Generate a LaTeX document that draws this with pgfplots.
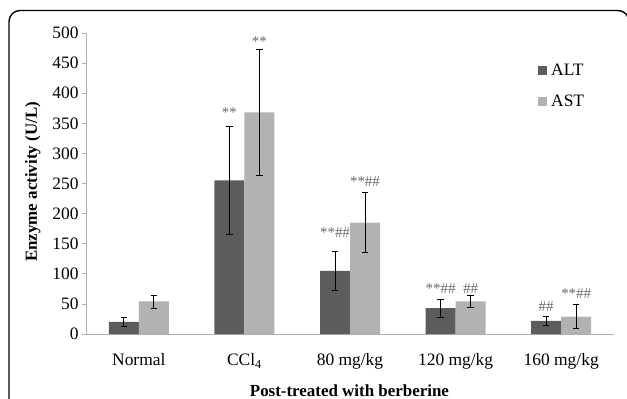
\documentclass[border=0pt]{standalone}
\usepackage{pgfplots}
\usepackage{pgfplotstable}
\pgfplotsset{compat=1.18}
\usepackage{fontspec}
\setmainfont{Liberation Serif}
\definecolor{altc}{HTML}{5C5C5C}
\definecolor{astc}{HTML}{B2B2B2}
\definecolor{axc}{HTML}{B0B0B0}
\definecolor{annc}{HTML}{6A6A6A}
\pgfplotstableread{
x ALT ALTerr AST ASTerr
0 20 7 54 11
1 255 90 368 105
2 105 32 185 50
3 43 15 54 10
4 22 7 29 20
}\datatable
\begin{document}
\begin{tikzpicture}
\useasboundingbox (0,0) rectangle (627bp,399bp);
\draw[line width=1.4bp, rounded corners=11bp] (9bp,-30bp) rectangle (629bp,388.5bp);
\begin{axis}[
  at={(86bp,65bp)}, anchor=south west,
  scale only axis, width=528bp, height=301bp,
  xmin=-0.5, xmax=4.5, ymin=0, ymax=500,
  axis x line*=bottom, axis y line*=left,
  axis line style={axc, line width=0.8bp, -},
  ybar=0pt, bar width=30bp,
  ytick={0,50,...,500},
  xtick={0,1,2,3,4},
  xticklabels={Normal, CCl\textsubscript{4}, 80 mg/kg, 120 mg/kg, 160 mg/kg},
  x tick style={draw=none},
  y tick style={axc, line width=0.8bp},
  tick align=outside, major tick length=4bp,
  extra x ticks={-0.5,0.5,1.5,2.5,3.5,4.5},
  extra x tick labels={},
  extra x tick style={tick style={axc, line width=0.8bp, draw=axc}, major tick length=5bp},
  ticklabel style={font=\fontsize{17.5}{20}\selectfont},
  xticklabel style={yshift=-12bp},
  /pgf/number format/assume math mode=true,
  ylabel={\textbf{Enzyme activity (U/L)}},
  ylabel style={font=\fontsize{17}{20}\selectfont, at={(axis description cs:-0.0795,0.505)}, anchor=south},
  xlabel={\textbf{Post-treated with berberine}},
  xlabel style={font=\fontsize{17}{20}\selectfont, at={(axis description cs:0.499,-0.189)}, anchor=center},
  legend style={draw=none, fill=none, at={(0.856,0.905)}, anchor=north west,
    font=\fontsize{17.5}{20}\selectfont, row sep=14bp, inner sep=0pt,
    /tikz/every odd column/.append style={column sep=2bp}},
  legend cell align=left,
  legend image code/.code={\fill[#1] (0bp,-4.5bp) rectangle (9bp,4.5bp);},
  clip=false,
]
\addplot[fill=altc, draw=none, error bars/.cd, y dir=both, y explicit,
  error bar style={black, line width=0.7bp},
  error mark options={black, rotate=90, mark size=3.2bp, line width=0.7bp}]
  table[x=x, y=ALT, y error=ALTerr]{\datatable};
\addplot[fill=astc, draw=none, error bars/.cd, y dir=both, y explicit,
  error bar style={black, line width=0.7bp},
  error mark options={black, rotate=90, mark size=3.2bp, line width=0.7bp}]
  table[x=x, y=AST, y error=ASTerr]{\datatable};
\legend{ALT, AST}
\begin{scope}[every node/.style={font=\fontsize{15}{17}\selectfont, text=annc, inner sep=0pt}]
\node at (axis cs:0.858,368) {**};
\node at (axis cs:1.142,485) {**};
\node at (axis cs:1.858,168) {**\#\#};
\node at (axis cs:2.142,253) {**\#\#};
\node at (axis cs:2.858,75) {**\#\#};
\node at (axis cs:3.142,75) {\#\#};
\node at (axis cs:3.858,45) {\#\#};
\node at (axis cs:4.142,67) {**\#\#};
\end{scope}
\end{axis}
\end{tikzpicture}
\end{document}
